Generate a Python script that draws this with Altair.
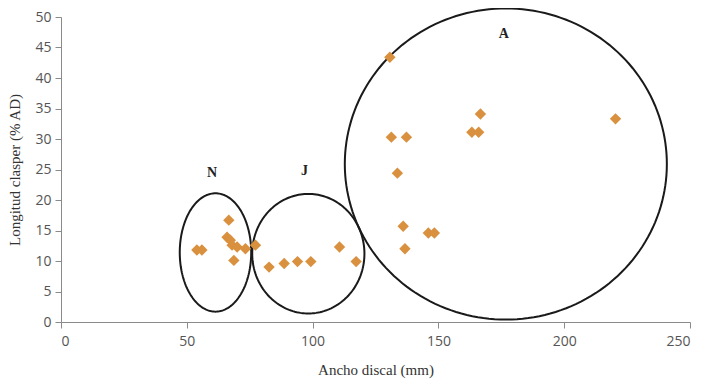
import altair as alt
import pandas as pd
import numpy as np

# Data points (Ancho discal mm, Longitud clasper % AD)
ancho = [54, 56, 66.7, 66, 67.3, 68, 70, 68.7, 73.3, 77.3,
         82.7, 88.7, 94, 99.3, 110.7, 117.3,
         130.7, 131.3, 137.3, 133.7, 136, 136.7, 146, 148.4, 166.7, 163.3, 166, 220.4]
longitud = [11.8, 11.8, 16.7, 13.9, 13.4, 12.6, 12.3, 10.1, 12.0, 12.6,
            9.0, 9.6, 9.9, 9.9, 12.3, 9.9,
            43.4, 30.3, 30.3, 24.4, 15.7, 12.0, 14.6, 14.6, 34.1, 31.1, 31.1, 33.3]

# Group ellipses (annotation shapes): center x, center y, radius x, radius y
groups = ["N", "J", "A"]
ell_cx = [61.4, 98.3, 176.8]
ell_cy = [11.4, 11.2, 25.9]
ell_rx = [14.2, 22.3, 64.0]
ell_ry = [9.7, 9.8, 25.5]
lab_x = [60, 96.8, 176]
lab_y = [24.5, 24.7, 47.2]

x_ticks = [0, 50, 100, 150, 200, 250]
y_ticks = [0, 5, 10, 15, 20, 25, 30, 35, 40, 45, 50]

pts = pd.DataFrame({"x": ancho, "y": longitud})

rows = []
t = np.linspace(0, 2 * np.pi, 181)
for g, cx, cy, rx, ry in zip(groups, ell_cx, ell_cy, ell_rx, ell_ry):
    for i, tt in enumerate(t):
        rows.append({"g": g, "i": i, "x": cx + rx * np.cos(tt), "y": cy + ry * np.sin(tt)})
ell = pd.DataFrame(rows)
labs = pd.DataFrame({"g": groups, "x": lab_x, "y": lab_y})

xsc = alt.Scale(domain=[0, 250], nice=False)
ysc = alt.Scale(domain=[0, 50], nice=False)

common = dict(grid=False, domainColor="#8a8a8a", tickColor="#8a8a8a", tickSize=6,
              labelFont="Open Sans", labelFontSize=14, labelColor="#555555",
              titleFont="Liberation Serif", labelOverlap=False, titleFontSize=15,
              titleFontWeight="normal", titleColor="#333333")
xax = alt.Axis(values=x_ticks, title="Ancho discal (mm)", labelPadding=6, titlePadding=14, **common)
yax = alt.Axis(values=y_ticks, title="Longitud clasper (% AD)", labelPadding=4, titlePadding=12, **common)

X = alt.X("x:Q", scale=xsc, axis=xax)
Y = alt.Y("y:Q", scale=ysc, axis=yax)

ellipses = alt.Chart(ell).mark_line(color="#1a1a1a", strokeWidth=2).encode(
    x=X, y=Y, detail="g:N", order="i:Q",
)

points = alt.Chart(pts).mark_point(shape="diamond", filled=True, color="#D9913F", size=130, opacity=1).encode(
    x=X, y=Y,
)

labels = alt.Chart(labs).mark_text(font="Liberation Serif", fontWeight="bold", fontSize=14, color="#222222").encode(
    x=X, y=Y, text="g:N",
)

chart = (ellipses + points + labels).properties(
    width=629, height=305,
    autosize=alt.AutoSizeParams(type="none"),
    padding={"left": 53, "top": 9, "right": 8, "bottom": 57},
).configure_view(stroke=None)
chart.save("out.html", embed_options={"renderer": "svg", "actions": False})
